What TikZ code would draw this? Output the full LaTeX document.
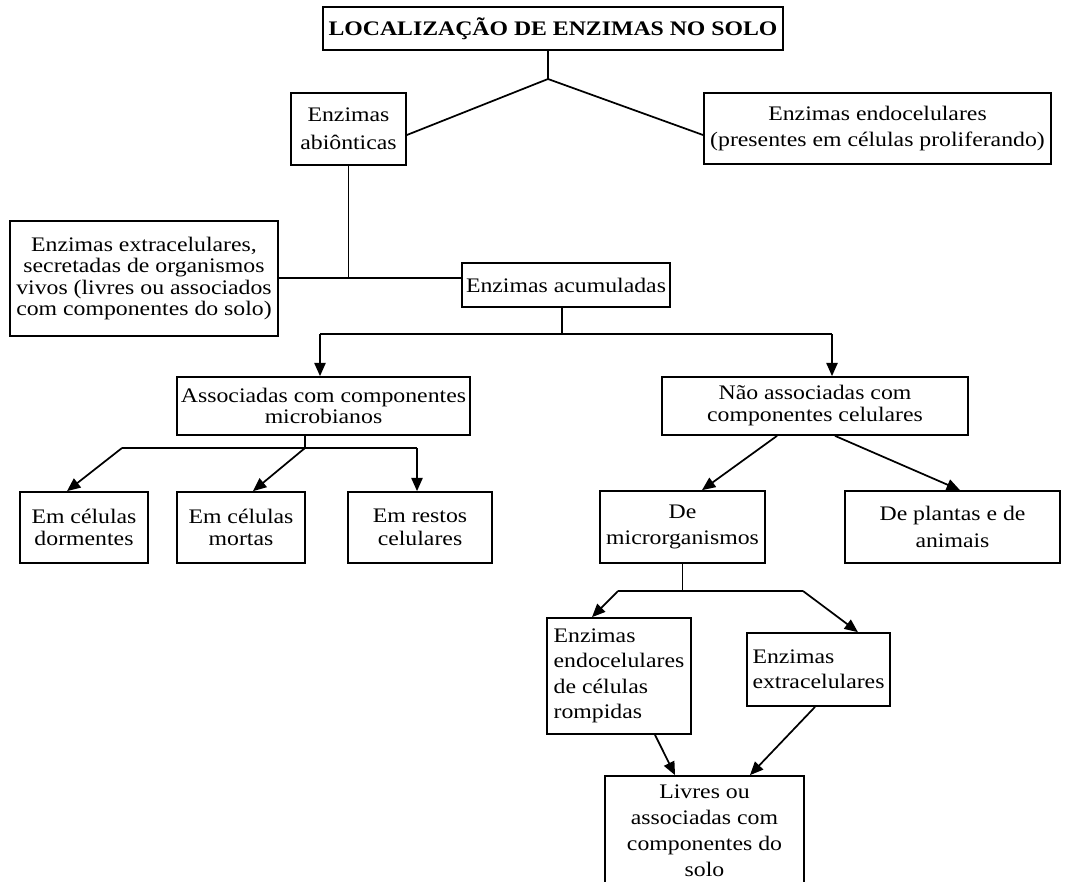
\documentclass[tikz,border=0pt]{standalone}
\usepackage{fontspec}
\setmainfont{Liberation Serif}[FakeStretch=1.15]
\usetikzlibrary{arrows.meta,calc}
\newcommand{\fs}[1]{\fontsize{15.5}{#1}\selectfont}
\tikzset{
 bx/.style={draw, line width=1.3pt, inner sep=1pt, align=center, font=\fs{20}},
 conn/.style={line width=1.3pt},
 arr/.style={line width=1.3pt, -{Triangle[length=10pt,width=8.5pt]}},
}
\begin{document}
\begin{tikzpicture}[x=0.75pt,y=-0.75pt]
\path[use as bounding box, clip] (0,0) rectangle (1066,881);
\fill[white] (0,0) rectangle (1066,881);

% nodes
\node[bx, minimum width=345pt, minimum height=32.25pt, font=\fs{20}\bfseries] (title) at (553,28.5) {LOCALIZAÇÃO DE ENZIMAS NO SOLO};
\node[bx, minimum width=86.25pt, minimum height=54pt, font=\fs{21}] (abio) at (348.5,129) {Enzimas\\abiônticas};
\node[bx, minimum width=260.25pt, minimum height=53.25pt, font=\fs{20}] (endo) at (877.5,128.5) {Enzimas endocelulares\\(presentes em células proliferando)};
\node[bx, minimum width=201pt, minimum height=86.25pt, font=\fs{16}] (extra) at (144,278.5) {Enzimas extracelulares,\\secretadas de organismos\\vivos (livres ou associados\\com componentes do solo)};
\node[bx, minimum width=156pt, minimum height=33pt] (acum) at (566,285) {Enzimas acumuladas};
\node[bx, minimum width=219.75pt, minimum height=43.5pt, font=\fs{16}] (assoc) at (323.5,406) {Associadas com componentes\\microbianos};
\node[bx, minimum width=229.5pt, minimum height=43.5pt, font=\fs{16.5}] (nao) at (815,406) {Não associadas com\\componentes celulares};
\node[bx, minimum width=96pt, minimum height=53.25pt, font=\fs{17}] (dorm) at (84,527.5) {Em células\\dormentes};
\node[bx, minimum width=96pt, minimum height=53.25pt, font=\fs{17}] (mort) at (241,527.5) {Em células\\mortas};
\node[bx, minimum width=108pt, minimum height=53.25pt, font=\fs{17}] (rest) at (420,527.5) {Em restos\\celulares};
\node[bx, minimum width=123.75pt, minimum height=54pt] (micro) at (682.5,527) {De\\microrganismos};
\node[bx, minimum width=161.25pt, minimum height=54pt] (plant) at (952.5,527) {De plantas e de\\animais};
\node[bx, minimum width=108pt, minimum height=87pt, align=left, font=\fs{19}] (romp) at (619,676) {Enzimas\\endocelulares\\de células\\rompidas};
\node[bx, minimum width=107.25pt, minimum height=54.75pt, align=left, font=\fs{19}] (extr2) at (818.5,669.5) {Enzimas\\extracelulares};
\node[bx, minimum width=149.25pt, minimum height=82.5pt, font=\fs{19.5}] (livr) at (704.5,831) {Livres ou\\associadas com\\componentes do\\solo};

% junction coordinates
\coordinate (t1) at (548,79);
\coordinate (j1) at (348,278);
\coordinate (j2) at (562,334);
\coordinate (a1) at (320,334);
\coordinate (a2) at (832,334);
\coordinate (j3) at (305,448);
\coordinate (b1) at (122,448);
\coordinate (b2) at (417,448);
\coordinate (j4) at (682,591);
\coordinate (c1) at (618,591);
\coordinate (c2) at (803,591);

% connectors
\draw[conn] (title.south -| t1) -- (t1) -- ([yshift=-4.5pt]abio.east);
\draw[conn] (t1) -- ([yshift=-4.9pt]endo.west);
\draw[conn] (abio.south) -- (abio.south |- j1);
\draw[conn] (extra.east |- j1) -- (acum.west |- j1);
\draw[conn] (acum.south -| j2) -- (j2);
\draw[conn] (a1) -- (a2);
\draw[arr] (a1) -- (assoc.north -| a1);
\draw[arr] (a2) -- (nao.north -| a2);
\draw[conn] (assoc.south -| j3) -- (j3);
\draw[conn] (b1) -- (b2);
\draw[arr] (b1) -- ([xshift=-12.75pt]dorm.north);
\draw[arr] (j3) -- ([xshift=9pt]mort.north);
\draw[arr] (b2) -- (rest.north -| b2);
\draw[arr] ([xshift=-28.5pt]nao.south) -- ([xshift=14.6pt]micro.north);
\draw[arr] ([xshift=15pt]nao.south) -- ([xshift=5.6pt]plant.north);
\draw[conn] (micro.south) -- (micro.south |- j4);
\draw[conn] (c1) -- (c2);
\draw[arr] (c1) -- ([xshift=-20.25pt]romp.north);
\draw[arr] (c2) -- ([xshift=29.6pt]extr2.north);
\draw[arr] ([xshift=27pt]romp.south) -- ([xshift=-22.1pt]livr.north);
\draw[arr] ([xshift=-2.6pt]extr2.south) -- ([xshift=34.1pt]livr.north);
\end{tikzpicture}
\end{document}
